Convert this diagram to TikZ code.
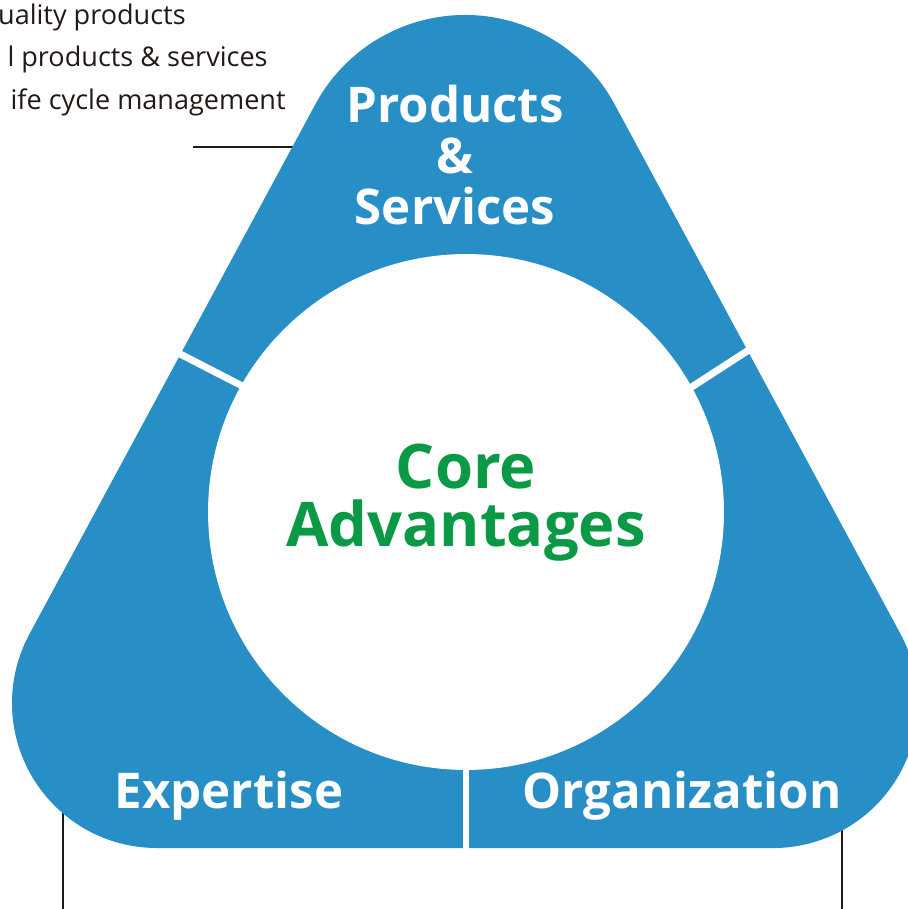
\documentclass[tikz,border=0pt]{standalone}
\usepackage{fontspec}
\setmainfont{Open Sans}[Ligatures=NoCommon]
\usetikzlibrary{positioning}
\definecolor{coreblue}{RGB}{40,142,198}
\definecolor{coregreen}{RGB}{10,154,70}
\definecolor{leadgray}{RGB}{35,24,21}
\tikzset{twoline/.style={align=center,inner sep=0pt,execute at begin node=\setlength{\baselineskip}{#1}},
	seglabel/.style={text=white,font=\fontsize{28}{29}\selectfont\bfseries,inner sep=0pt},
	leader/.style={leadgray,line width=1.1pt},
	gapline/.style={white,line width=4pt},
	note/.style={text=leadgray,font=\fontsize{15.4}{18}\selectfont,inner sep=0pt,anchor=base east}}

\begin{document}
\begin{tikzpicture}[x=0.02cm,y=0.02cm]
		\useasboundingbox (0,0) rectangle (907,-909);
		\coordinate (hl) at (193,-147);
		\coordinate (hr) at (330,-147);
		\coordinate (vl) at (63,-760);
		\coordinate (vlb) at (63,-909);
		\coordinate (vr) at (842,-780);
		\coordinate (vrb) at (842,-909);
		\draw[leader] (hl) -- (hr);
		\draw[leader] (vl) -- (vlb);
		\draw[leader] (vr) -- (vrb);
		\fill[coreblue] (315.3,-104.4) arc[start angle=151.7,end angle=28.3,radius=170] -- (900.7,-634.3) arc[start angle=28.3,end angle=-90,radius=145] -- (157,-848) arc[start angle=270,end angle=151.7,radius=145] -- cycle;
		\node[circle,fill=white,inner sep=0pt,minimum size=10.32cm] (core) at (466,-512) {};
		\coordinate (gla) at (171,-349.3);
		\coordinate (glb) at (252,-391);
		\coordinate (gra) at (758,-344);
		\coordinate (grb) at (684,-392);
		\coordinate (gba) at (466,-760);
		\coordinate (gbb) at (466,-860);
		\draw[gapline] (gla) -- (glb);
		\draw[gapline] (gra) -- (grb);
		\draw[gapline,line width=3.4pt] (gba) -- (gbb);
		\node[twoline=33pt,text=coregreen,font=\fontsize{35}{33}\selectfont\bfseries] (adv) at (466,-503) {Core\\Advantages};
		\node[seglabel,twoline=29pt] (prod) at (455,-155) {Products\\\&\\Services};
		\node[seglabel,anchor=base] (expt) at (229,-808) {Expertise};
		\node[seglabel,anchor=base] (orgn) at (682,-808) {Organization};
		\node[note] (n1) at (186,-25) {uality products};
		\node[note] (n2) at (268,-67) {l products \& services};
		\node[note] (n3) at (286,-110) {ife cycle management};
		\end{tikzpicture}
\end{document}
